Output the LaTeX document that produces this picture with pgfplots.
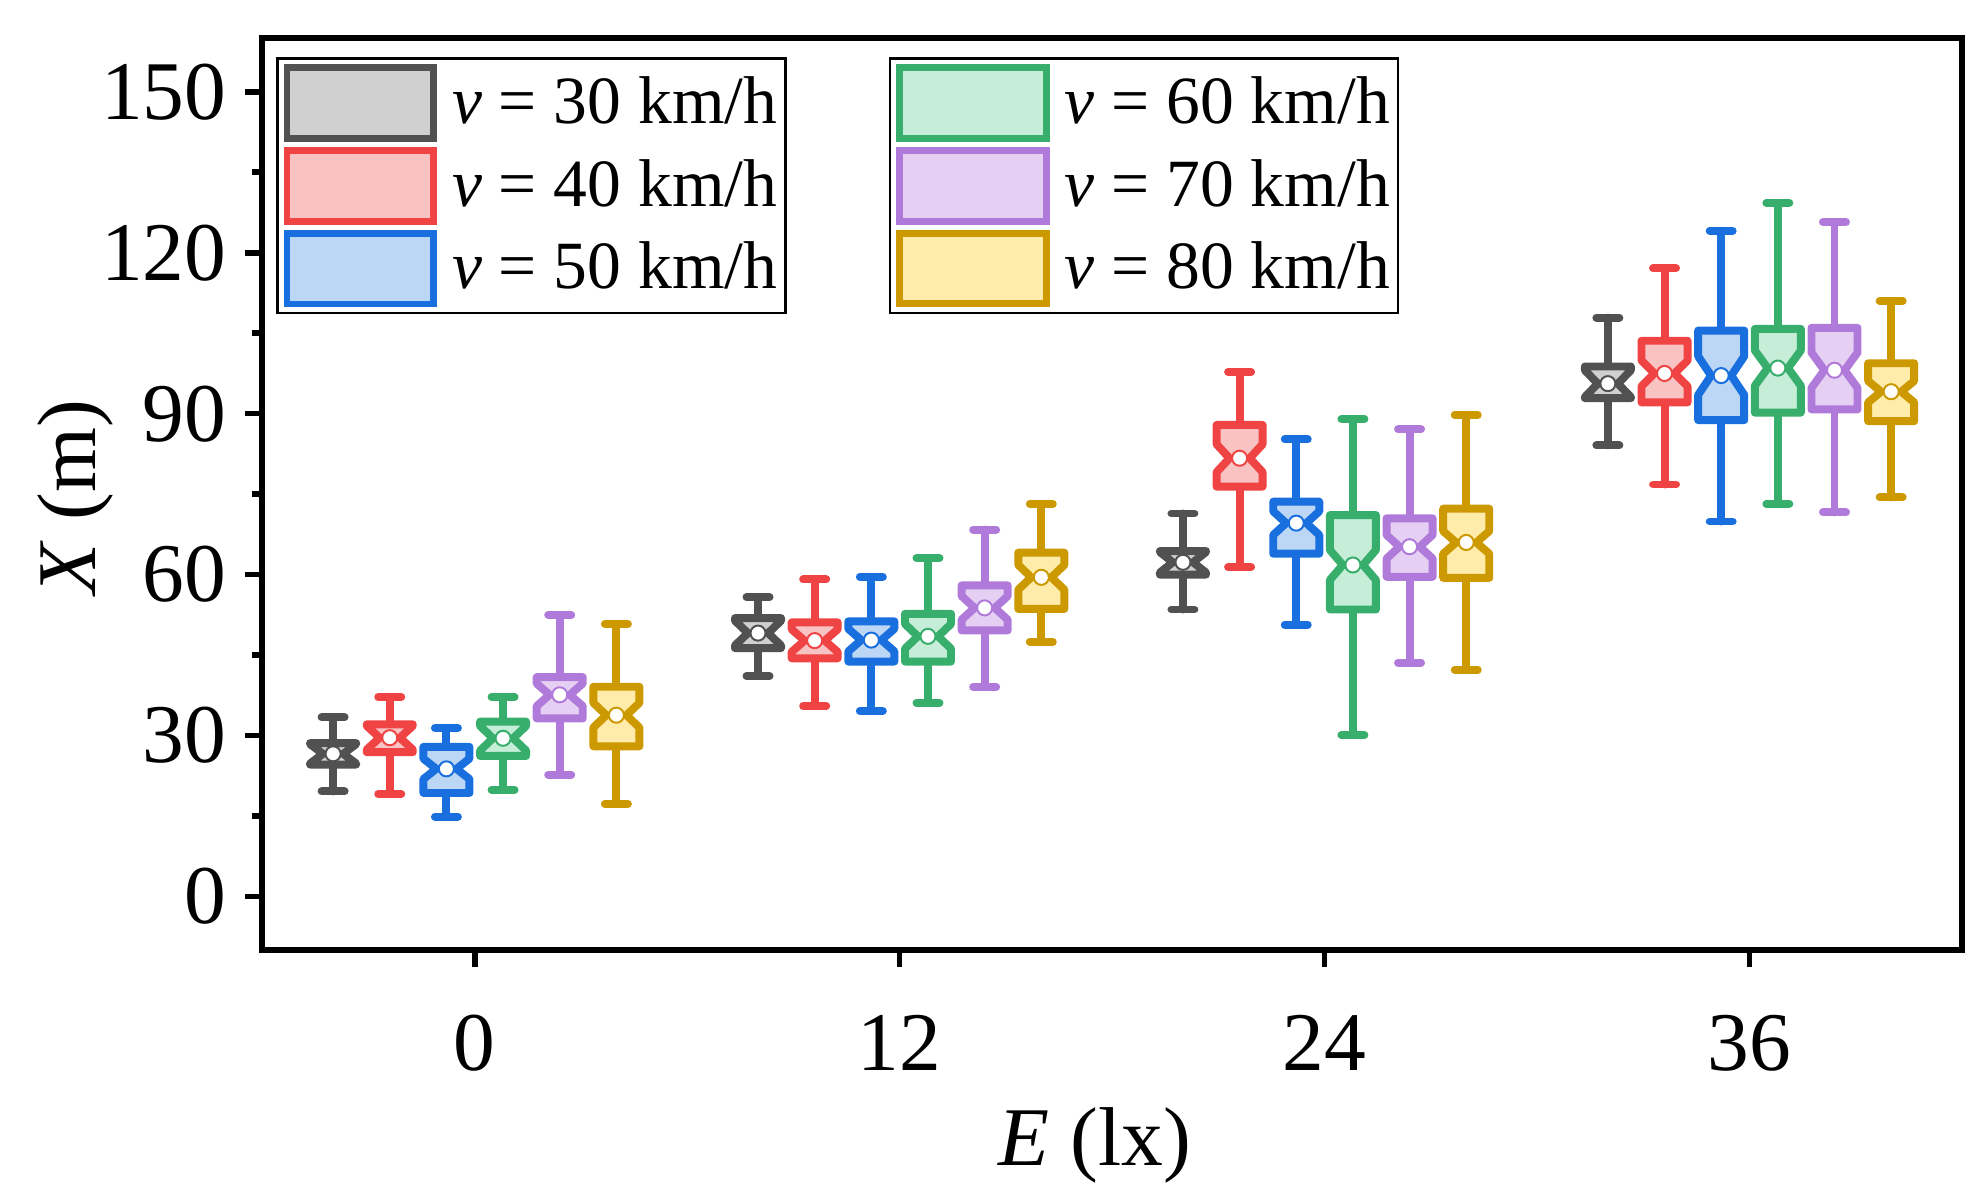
\documentclass[border=0pt]{standalone}
\usepackage{fontspec}
\setmainfont{Liberation Serif}
\usepackage{pgfplots}
\pgfplotsset{compat=1.18}
\usepgfplotslibrary{statistics}
\usetikzlibrary{calc}

\definecolor{c30}{HTML}{515151}\definecolor{f30}{HTML}{D0D0D0}
\definecolor{c40}{HTML}{F04343}\definecolor{f40}{HTML}{F9C3C3}
\definecolor{c50}{HTML}{1A6FDF}\definecolor{f50}{HTML}{BCD6F5}
\definecolor{c60}{HTML}{37AE6C}\definecolor{f60}{HTML}{C5EDD8}
\definecolor{c70}{HTML}{B07ADB}\definecolor{f70}{HTML}{E5D0F3}
\definecolor{c80}{HTML}{CC9900}\definecolor{f80}{HTML}{FFEBAA}

\pgfplotsset{
  notchh/.initial=2,
  boxplot/draw direction=y,
  boxplot/box extend=1.3,
  boxplot/whisker extend=0.65,
  nbox/.style={
    line width=2pt, line cap=round, line join=round, forget plot,
    boxplot/draw direction=y,
    boxplot/draw/box/.code={%
      \pgfmathsetmacro\qlo{\pgfplotsboxplotvalue{lower quartile}}%
      \pgfmathsetmacro\qhi{\pgfplotsboxplotvalue{upper quartile}}%
      \pgfmathsetmacro\qmed{\pgfplotsboxplotvalue{median}}%
      \pgfmathsetmacro\nlo{\qmed-\pgfkeysvalueof{/pgfplots/notchh}}%
      \pgfmathsetmacro\nhi{\qmed+\pgfkeysvalueof{/pgfplots/notchh}}%
      \draw[/pgfplots/boxplot/every box/.try]
        (boxplot box cs:\qlo,0) -- (boxplot box cs:\nlo,0) -- (boxplot box cs:\qmed,0.28) --
        (boxplot box cs:\nhi,0) -- (boxplot box cs:\qhi,0) -- (boxplot box cs:\qhi,1) --
        (boxplot box cs:\nhi,1) -- (boxplot box cs:\qmed,0.72) -- (boxplot box cs:\nlo,1) --
        (boxplot box cs:\qlo,1) -- cycle;
    },
    boxplot/draw/median/.code={},
    boxplot/draw/average/.code={%
      \draw[fill=white, line width=0.5pt]
        (boxplot box cs:\pgfplotsboxplotvalue{average},0.5) circle[radius=1.9pt];
    },
  },
  s30/.style={nbox, draw=c30, fill=f30},
  s40/.style={nbox, draw=c40, fill=f40},
  s50/.style={nbox, draw=c50, fill=f50},
  s60/.style={nbox, draw=c60, fill=f60},
  s70/.style={nbox, draw=c70, fill=f70},
  s80/.style={nbox, draw=c80, fill=f80},
  mylegend/.style={
    legend image code/.code={\draw[##1, line width=1.7pt] (0.85pt,-8.9pt) rectangle (37.75pt,8.9pt);},
    legend cell align=left,
    legend style={anchor=north west, draw=black, line width=0.6pt, fill=white,
      inner sep=1.5pt, row sep=1.3pt, column sep=3.2pt,
      font=\fontsize{17}{20}\selectfont, nodes={inner sep=0.6pt}},
  },
}

\begin{document}
\begin{tikzpicture}
\begin{axis}[
  name=ax, scale only axis, width=427.7pt, height=229.5pt,
  xmin=-6, xmax=42, ymin=-10, ymax=160,
  xtick={0,12,24,36}, ytick={0,30,...,150}, minor y tick num=1,
  xtick pos=bottom, ytick pos=left, tick align=outside,
  major tick length=4.3pt, minor tick length=2.5pt,
  every tick/.style={line width=1.4pt, black},
  axis line style={line width=1.4pt},
  /pgf/number format/assume math mode=true,
  tick label style={font=\fontsize{21}{25}\selectfont},
  xticklabel style={yshift=-8.5pt},
  yticklabel style={xshift=-1.2pt},
  label style={font=\fontsize{21}{25}\selectfont},
  xlabel={\textit{E} (lx)}, ylabel={\textit{X} (m)},
  xlabel style={at={(axis description cs:0.49,-0.214)}, anchor=center},
  ylabel style={at={(axis description cs:-0.110,0.4965)}, anchor=center},
  mylegend,
  legend style={at={(0.0083,0.979)}},
]
\addlegendimage{draw=c30, fill=f30}\addlegendentry{\textit{v} = 30 km/h}
\addlegendimage{draw=c40, fill=f40}\addlegendentry{\textit{v} = 40 km/h}
\addlegendimage{draw=c50, fill=f50}\addlegendentry{\textit{v} = 50 km/h}

% v = 30 km/h
\addplot[s30, notchh=1.8, boxplot prepared={draw position=-4, lower whisker=19.6, lower quartile=24.6, median=26.6, upper quartile=28.6, upper whisker=33.4, average=26.6}] coordinates {};
\addplot[s30, notchh=2.3, boxplot prepared={draw position=8, lower whisker=41.1, lower quartile=46.3, median=49.1, upper quartile=51.9, upper whisker=55.8, average=49.1}] coordinates {};
\addplot[s30, notchh=1.9, boxplot prepared={draw position=20, lower whisker=53.5, lower quartile=60.0, median=62.3, upper quartile=64.4, upper whisker=71.4, average=62.3}] coordinates {};
\addplot[s30, notchh=2.5, boxplot prepared={draw position=32, lower whisker=84.1, lower quartile=92.9, median=95.6, upper quartile=98.8, upper whisker=107.9, average=95.6}] coordinates {};
% v = 40 km/h
\addplot[s40, notchh=2.2, boxplot prepared={draw position=-2.4, lower whisker=19.1, lower quartile=26.9, median=29.6, upper quartile=32.1, upper whisker=37.2, average=29.6}] coordinates {};
\addplot[s40, notchh=2.1, boxplot prepared={draw position=9.6, lower whisker=35.5, lower quartile=44.4, median=47.7, upper quartile=51.1, upper whisker=59.1, average=47.7}] coordinates {};
\addplot[s40, notchh=2.6, boxplot prepared={draw position=21.6, lower whisker=61.4, lower quartile=76.4, median=81.7, upper quartile=87.9, upper whisker=97.8, average=81.7}] coordinates {};
\addplot[s40, notchh=2.4, boxplot prepared={draw position=33.6, lower whisker=76.8, lower quartile=92.1, median=97.5, upper quartile=103.6, upper whisker=117.1, average=97.5}] coordinates {};
% v = 50 km/h
\addplot[s50, notchh=1.9, boxplot prepared={draw position=-0.8, lower whisker=14.9, lower quartile=19.3, median=23.8, upper quartile=27.9, upper whisker=31.4, average=23.8}] coordinates {};
\addplot[s50, notchh=2.1, boxplot prepared={draw position=11.2, lower whisker=34.6, lower quartile=43.8, median=47.8, upper quartile=51.3, upper whisker=59.6, average=47.8}] coordinates {};
\addplot[s50, notchh=2.2, boxplot prepared={draw position=23.2, lower whisker=50.7, lower quartile=63.9, median=69.6, upper quartile=73.6, upper whisker=85.2, average=69.6}] coordinates {};
\addplot[s50, notchh=3.6, boxplot prepared={draw position=35.2, lower whisker=69.9, lower quartile=88.8, median=97.1, upper quartile=105.5, upper whisker=124.1, average=97.1}] coordinates {};
% v = 60 km/h
\addplot[s60, notchh=2.3, boxplot prepared={draw position=0.8, lower whisker=19.9, lower quartile=26.2, median=29.5, upper quartile=32.6, upper whisker=37.2, average=29.5}] coordinates {};
\addplot[s60, notchh=2.3, boxplot prepared={draw position=12.8, lower whisker=36.1, lower quartile=43.8, median=48.5, upper quartile=52.7, upper whisker=63.1, average=48.5}] coordinates {};
\addplot[s60, notchh=2.8, boxplot prepared={draw position=24.8, lower whisker=30.1, lower quartile=53.5, median=61.8, upper quartile=71.1, upper whisker=89.0, average=61.8}] coordinates {};
\addplot[s60, notchh=3.3, boxplot prepared={draw position=36.8, lower whisker=73.2, lower quartile=90.2, median=98.5, upper quartile=105.8, upper whisker=129.3, average=98.5}] coordinates {};
% v = 70 km/h
\addplot[s70, notchh=2.1, boxplot prepared={draw position=2.4, lower whisker=22.7, lower quartile=33.2, median=37.6, upper quartile=40.9, upper whisker=52.5, average=37.6}] coordinates {};
\addplot[s70, notchh=2.2, boxplot prepared={draw position=14.4, lower whisker=39.1, lower quartile=49.6, median=53.8, upper quartile=58.0, upper whisker=68.4, average=53.8}] coordinates {};
\addplot[s70, notchh=2.2, boxplot prepared={draw position=26.4, lower whisker=43.6, lower quartile=59.6, median=65.2, upper quartile=70.5, upper whisker=87.1, average=65.2}] coordinates {};
\addplot[s70, notchh=3.3, boxplot prepared={draw position=38.4, lower whisker=71.6, lower quartile=90.8, median=98.1, upper quartile=106.0, upper whisker=125.7, average=98.1}] coordinates {};
% v = 80 km/h
\addplot[s80, notchh=2.3, boxplot prepared={draw position=4, lower whisker=17.3, lower quartile=28.0, median=33.8, upper quartile=39.1, upper whisker=50.8, average=33.8}] coordinates {};
\addplot[s80, notchh=2.3, boxplot prepared={draw position=16, lower whisker=47.5, lower quartile=53.6, median=59.5, upper quartile=64.1, upper whisker=73.2, average=59.5}] coordinates {};
\addplot[s80, notchh=2.1, boxplot prepared={draw position=28, lower whisker=42.3, lower quartile=59.4, median=66.0, upper quartile=72.3, upper whisker=89.8, average=66.0}] coordinates {};
\addplot[s80, notchh=2.0, boxplot prepared={draw position=40, lower whisker=74.4, lower quartile=88.6, median=94.1, upper quartile=99.4, upper whisker=111.0, average=94.1}] coordinates {};
\end{axis}

\begin{axis}[
  scale only axis, width=427.7pt, height=229.5pt,
  xmin=-6, xmax=42, ymin=-10, ymax=160, hide axis,
  mylegend,
  legend style={at={(0.3687,0.979)}},
]
\addlegendimage{draw=c60, fill=f60}\addlegendentry{\textit{v} = 60 km/h}
\addlegendimage{draw=c70, fill=f70}\addlegendentry{\textit{v} = 70 km/h}
\addlegendimage{draw=c80, fill=f80}\addlegendentry{\textit{v} = 80 km/h}
\end{axis}

\pgfresetboundingbox
\path ($(ax.south west)+(-66pt,-63pt)$) rectangle ($(ax.north east)+(6.3pt,9.6pt)$);
\end{tikzpicture}
\end{document}
